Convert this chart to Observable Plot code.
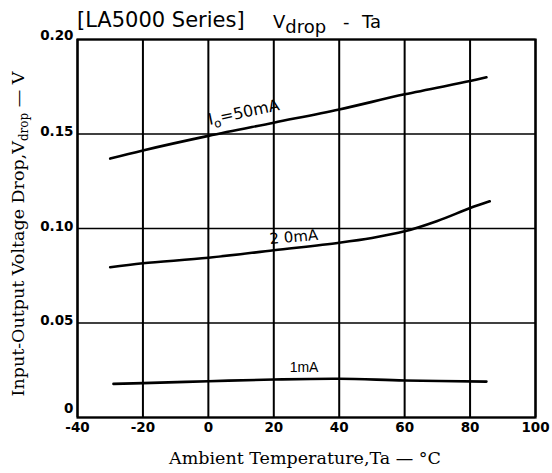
<!DOCTYPE html>
<html><head><meta charset="utf-8">
<script src="https://cdn.jsdelivr.net/npm/d3@7"></script>
<script src="https://cdn.jsdelivr.net/npm/@observablehq/plot@0.6"></script>
<style>body{margin:0;background:#fff}</style>
</head><body><div id="chart"></div>
<script>
const xTicks = [-40, -20, 0, 20, 40, 60, 80, 100];
const yTicks = [0, 0.05, 0.10, 0.15, 0.20];

const temps50 = [-30, -20, 0, 20, 40, 60, 80, 85];
const vdrop50 = [0.137, 0.1413, 0.149, 0.156, 0.163, 0.171, 0.178, 0.180];
const temps20 = [-30, -20, 0, 20, 40, 50, 60, 70, 80, 86];
const vdrop20 = [0.0795, 0.0816, 0.0845, 0.0885, 0.0925, 0.095, 0.0985, 0.104, 0.1108, 0.1144];
const temps1 = [-29, -20, 0, 20, 40, 60, 85];
const vdrop1 = [0.0178, 0.0182, 0.0192, 0.0201, 0.0205, 0.0196, 0.019];

const seriesNames = ["50mA", "20mA", "1mA"];
const table = [];
[[temps50, vdrop50], [temps20, vdrop20], [temps1, vdrop1]].forEach(([t, v], i) =>
  t.forEach((x, j) => table.push({series: seriesNames[i], t: x, v: v[j]})));

const tickFont = "'DejaVu Sans', sans-serif";
const serif = "'DejaVu Serif', serif";
const sans = "'DejaVu Sans', sans-serif";
const yFmt = d => d === 0 ? "0" : d.toFixed(2);
const yAxisOpts = {tickSize: 0, tickPadding: 4, label: null, fontSize: 13.5, fontWeight: "bold", fontFamily: tickFont, tickFormat: yFmt};

const chart = Plot.plot({
  width: 552, height: 473,
  marginLeft: 77, marginRight: 17, marginTop: 39, marginBottom: 56,
  style: {background: "white", color: "black"},
  x: {domain: [-40, 100], ticks: xTicks},
  y: {domain: [0, 0.2], ticks: yTicks},
  marks: [
    Plot.gridX(xTicks, {stroke: "black", strokeOpacity: 1, strokeWidth: 2}),
    Plot.gridY(yTicks, {stroke: "black", strokeOpacity: 1, strokeWidth: 1.6}),
    Plot.frame({stroke: "black", strokeWidth: 2.2}),
    Plot.axisX(xTicks, {tickSize: 0, tickPadding: 5, label: null, fontSize: 13.5, fontWeight: "bold", fontFamily: tickFont,
      tickFormat: d => String(d)}),
    Plot.axisY(yTicks.filter(d => d > 0 && d < 0.2), {...yAxisOpts, dy: -2}),
    Plot.axisY(yTicks.filter(d => d === 0), {...yAxisOpts, dy: -9}),
    Plot.axisY(yTicks.filter(d => d === 0.2), {...yAxisOpts, dy: -4}),
    Plot.line(table, {x: "t", y: "v", z: "series", curve: "catmull-rom", stroke: "black", strokeWidth: 2.6})
  ]
});
document.getElementById("chart").appendChild(chart);

const svg = d3.select(chart);
const sx = chart.scale("x"), sy = chart.scale("y");

// Title
svg.append("text").attr("x", 77).attr("y", 27).attr("text-anchor", "start")
  .attr("font-family", sans).attr("font-size", 21).attr("fill", "black")
  .text("[LA5000 Series]");
const t2 = svg.append("text").attr("x", 273).attr("y", 28).attr("text-anchor", "start")
  .attr("font-family", sans).attr("font-size", 18).attr("fill", "black");
t2.append("tspan").text("V");
t2.append("tspan").attr("dy", 5).text("drop");
t2.append("tspan").attr("dy", -5).attr("x", 343).text("-");
t2.append("tspan").attr("x", 362).text("Ta");

// Axis titles
svg.append("text").attr("x", 305).attr("y", 464).attr("text-anchor", "middle")
  .attr("font-family", serif).attr("font-size", 17.5).attr("fill", "black")
  .text("Ambient Temperature,Ta \u2014 \u00B0C");
const yt = svg.append("text").attr("transform", "translate(24,234) rotate(-90)").attr("text-anchor", "middle")
  .attr("font-family", serif).attr("font-size", 17.5).attr("fill", "black");
yt.append("tspan").text("Input-Output Voltage Drop,V");
yt.append("tspan").attr("dy", 4).attr("font-size", 12).text("drop");
yt.append("tspan").attr("dy", -4).text(" \u2014 V");

// Curve labels
const l50 = svg.append("text").attr("transform", `translate(${sx.apply(0.5)},${sy.apply(0.1545)}) rotate(-12)`)
  .attr("text-anchor", "start")
  .attr("font-family", sans).attr("font-size", 16).attr("fill", "black");
l50.append("tspan").text("I");
l50.append("tspan").attr("dy", 4).attr("font-size", 12).text("o");
l50.append("tspan").attr("dy", -4).text("=50mA");
svg.append("text").attr("transform", `translate(${sx.apply(19)},${sy.apply(0.0915)}) rotate(-5)`)
  .attr("text-anchor", "start")
  .attr("font-family", sans).attr("font-size", 15).attr("fill", "black").text("2 0mA");
svg.append("text").attr("x", sx.apply(25)).attr("y", sy.apply(0.024)).attr("text-anchor", "start")
  .attr("font-family", "'Liberation Sans', sans-serif").attr("font-size", 14).attr("fill", "black").text("1mA");
</script>
</body></html>
